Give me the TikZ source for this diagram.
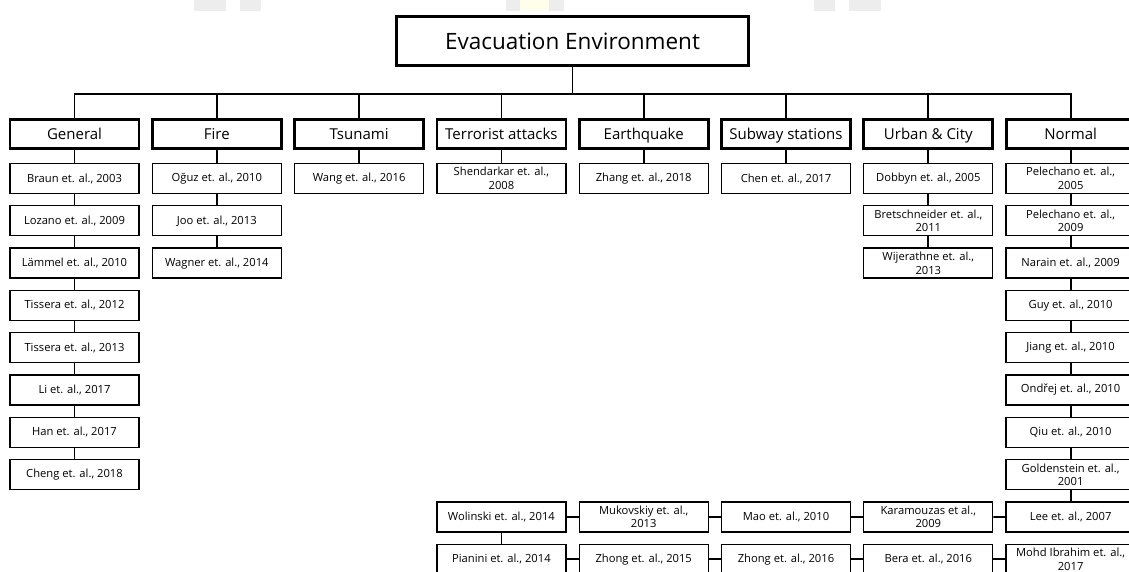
\documentclass[tikz,border=0pt]{standalone}
\usepackage{fontspec}
\setmainfont{Open Sans}
\begin{document}
\begin{tikzpicture}[x=1pt,y=-1pt,
  rootbox/.style={draw, line width=2.6pt, minimum width=352pt, minimum height=49pt, inner sep=0pt, font=\fontsize{22.5}{26}\selectfont},
  catbox/.style={draw, line width=2.8pt, minimum width=129pt, minimum height=29pt, inner sep=0pt, text height=12.5pt, text depth=2pt, font=\fontsize{15}{18}\selectfont},
  leaf/.style={draw, line width=1.3pt, minimum width=129pt, minimum height=30pt, inner sep=0pt, align=center, font=\fontsize{11.2}{13.5}\selectfont},
  link/.style={line width=1.8pt},
  faint/.style={fill=black!7, draw=none}
]
\useasboundingbox (0,0) rectangle (1129,571);

% faint marks along the top edge
\fill[faint] (194,0) rectangle (226,11);
\fill[faint] (240,0) rectangle (261,11);
\fill[faint] (506,0) rectangle (520,11);
\fill[fill=yellow!8] (520,0) rectangle (549,11);
\fill[faint] (549,0) rectangle (564,11);
\fill[faint] (814,0) rectangle (835,11);
\fill[faint] (849,0) rectangle (881,11);

% root
\node[rootbox] (root) at (572.5,41) {Evacuation Environment};
\coordinate (bus) at (572.5,94);

% categories
\node[catbox] (c0) at (74.5,134) {General};
\node[catbox] (c1) at (216.8,134) {Fire};
\node[catbox] (c2) at (359.1,134) {Tsunami};
\node[catbox] (c3) at (501.4,134) {Terrorist attacks};
\node[catbox] (c4) at (643.7,134) {Earthquake};
\node[catbox] (c5) at (786,134) {Subway stations};
\node[catbox] (c6) at (928.3,134) {Urban \& City};
\node[catbox] (c7) at (1070.6,134) {Normal};

\draw[link] (root.south) -- (bus);
\foreach \i in {0,...,7} \draw[link] (c\i.north) |- (bus);

% General
\foreach \t [count=\k from 0] in {{Braun et. al., 2003},{Lozano et. al., 2009},{Lämmel et. al., 2010},{Tissera et. al., 2012},{Tissera et. al., 2013},{Li et. al., 2017},{Han et. al., 2017},{Cheng et. al., 2018}}
  \node[leaf] (g\k) at (74.5,178.5+42.3*\k) {\t};
% Fire
\foreach \t [count=\k from 0] in {{Oğuz et. al., 2010},{Joo et. al., 2013},{Wagner et. al., 2014}}
  \node[leaf] (f\k) at (216.8,178.5+42.3*\k) {\t};
% Tsunami, Terrorist attacks, Earthquake, Subway stations
\node[leaf] (t0) at (359.1,178.5) {Wang et. al., 2016};
\node[leaf] (a0) at (501.4,178.5) {Shendarkar et. al.,\\2008};
\node[leaf] (e0) at (643.7,178.5) {Zhang et. al., 2018};
\node[leaf] (s0) at (786,178.5) {Chen et. al., 2017};
% Urban & City
\foreach \t [count=\k from 0] in {{Dobbyn et. al., 2005},{Bretschneider et. al.,\\2011},{Wijerathne et. al.,\\2013}}
  \node[leaf] (u\k) at (928.3,178.5+42.3*\k) {\t};
% Normal
\foreach \t [count=\k from 0] in {{Pelechano et. al.,\\2005},{Pelechano et. al.,\\2009},{Narain et. al., 2009},{Guy et. al., 2010},{Jiang et. al., 2010},{Ondřej et. al., 2010},{Qiu et. al., 2010},{Goldenstein et. al.,\\2001},{Lee et. al., 2007}}
  \node[leaf] (n\k) at (1070.6,178.5+42.3*\k) {\t};

% lower rows
\node[leaf] (w1) at (501.4,516.9) {Wolinski et. al., 2014};
\node[leaf] (w2) at (643.7,516.9) {Mukovskiy et. al.,\\2013};
\node[leaf] (w3) at (786,516.9) {Mao et. al., 2010};
\node[leaf] (w4) at (928.3,516.9) {Karamouzas et al.,\\2009};
\node[leaf] (p1) at (501.4,559.2) {Pianini et. al., 2014};
\node[leaf] (p2) at (643.7,559.2) {Zhong et. al., 2015};
\node[leaf] (p3) at (786,559.2) {Zhong et. al., 2016};
\node[leaf] (p4) at (928.3,559.2) {Bera et. al., 2016};
\node[leaf] (p5) at (1070.6,559.2) {Mohd Ibrahim et. al.,\\2017};

% category to first entry
\foreach \a/\b in {c0/g0,c1/f0,c2/t0,c3/a0,c4/e0,c5/s0,c6/u0,c7/n0}
  \draw[link] (\a.south) -- (\b.north);
% vertical chains
\foreach \k in {1,...,7} {\pgfmathtruncatemacro\p{\k-1}\draw[link] (g\p.south) -- (g\k.north);}
\foreach \k in {1,2} {\pgfmathtruncatemacro\p{\k-1}\draw[link] (f\p.south) -- (f\k.north);}
\foreach \k in {1,2} {\pgfmathtruncatemacro\p{\k-1}\draw[link] (u\p.south) -- (u\k.north);}
\foreach \k in {1,...,8} {\pgfmathtruncatemacro\p{\k-1}\draw[link] (n\p.south) -- (n\k.north);}
% the chain winding through the lower rows
\foreach \a/\b in {n8/w4,w4/w3,w3/w2,w2/w1}
  \draw[link] (\a.west) -- (\b.east);
\draw[link] (w1.south) -- (p1.north);
\foreach \a/\b in {p1/p2,p2/p3,p3/p4,p4/p5}
  \draw[link] (\a.east) -- (\b.west);
\end{tikzpicture}
\end{document}
